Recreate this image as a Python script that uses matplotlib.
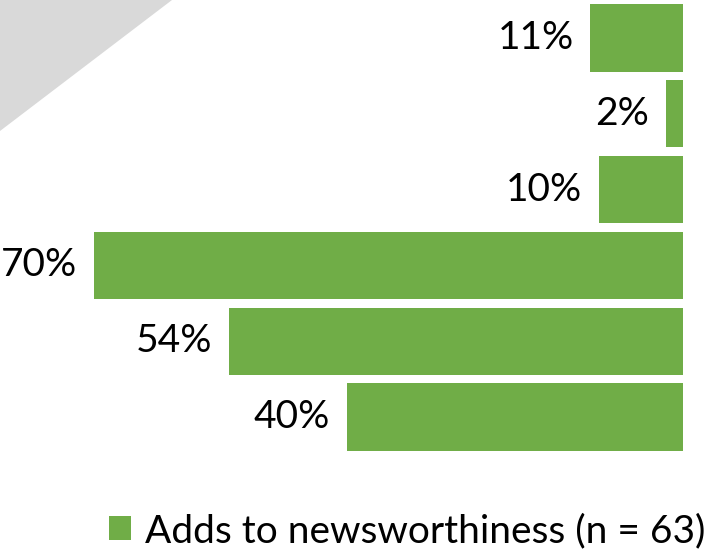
import matplotlib
matplotlib.use("Agg")
import matplotlib.pyplot as plt
from matplotlib.patches import Polygon

# share of stories (%) per item, top to bottom
values = [11, 2, 10, 70, 54, 40]
labels = ["11%", "2%", "10%", "70%", "54%", "40%"]
series_name = "Adds to newsworthiness (n = 63)"

green = "#70ad47"
plt.rcParams["font.family"] = ["Lato", "DejaVu Sans"]

fig = plt.figure(figsize=(7.1, 5.53), dpi=100)

# grey corner wedge behind everything
fig.patches.append(Polygon([(0, 1), (172 / 710, 1), (0, 1 - 131 / 553)],
                           closed=True, transform=fig.transFigure,
                           facecolor="#d9d9d9", edgecolor="none", zorder=0))

ax = fig.add_axes([0, 0.1772, 1, 0.8228])
ax.patch.set_alpha(0)
pos = list(range(len(values)))
bars = ax.barh(pos, values, height=0.89, color=green, label=series_name)
ax.set_xlim(81.2, -3.22)
ax.set_ylim(len(values) - 0.5, -0.5)
ax.axis("off")

for b, txt in zip(bars, labels):
    ax.annotate(txt, (b.get_width(), b.get_y() + b.get_height() / 2),
                xytext=(-12, 0), textcoords="offset points",
                ha="right", va="center", fontsize=28, color="black")

fig.legend(handles=[bars], loc="center", bbox_to_anchor=(0.573, 0.04),
           frameon=False, fontsize=28, handlelength=0.58, handleheight=0.58,
           handletextpad=0.35, borderpad=0)

fig.savefig("out.png", dpi=100)
